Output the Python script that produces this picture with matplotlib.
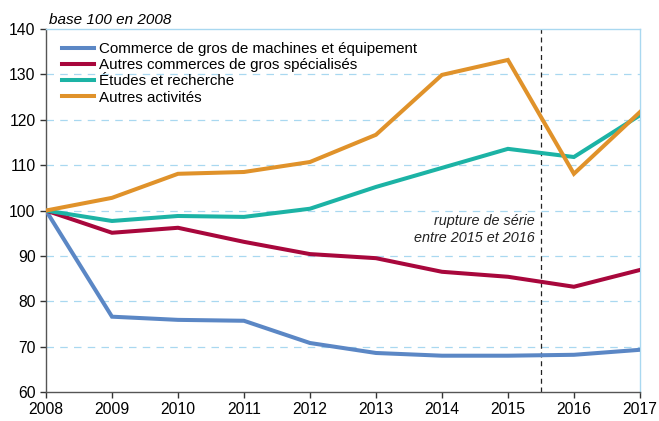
import matplotlib
matplotlib.use("Agg")
import matplotlib.pyplot as plt

plt.rcParams['font.family'] = ['Liberation Sans', 'DejaVu Sans']

years = list(range(2008, 2018))
commerce_machines = [100, 76.6, 75.9, 75.7, 70.8, 68.6, 68.0, 68.0, 68.2, 69.3]
autres_commerces = [100, 95.1, 96.2, 93.1, 90.4, 89.5, 86.5, 85.4, 83.2, 86.9]
etudes_recherche = [100, 97.7, 98.8, 98.6, 100.4, 105.2, 109.4, 113.6, 111.8, 121.0]
autres_activites = [100, 102.8, 108.1, 108.5, 110.7, 116.7, 129.9, 133.2, 108.1, 121.7]
labels = ["Commerce de gros de machines et équipement",
          "Autres commerces de gros spécialisés",
          "Études et recherche",
          "Autres activités"]
colors = ["#5b87c5", "#a8073c", "#1cb3a5", "#e0922a"]
series = [commerce_machines, autres_commerces, etudes_recherche, autres_activites]
break_x = 2015.5

fig = plt.figure(figsize=(6.59, 4.21), dpi=100)
ax = fig.add_axes([0.0698, 0.0689, 0.9012, 0.862])

for yv in range(70, 140, 10):
    ax.axhline(yv, color="#a9d8f0", lw=0.9, ls=(0, (6, 5)), zorder=0)

for s, c, l in zip(series, colors, labels):
    ax.plot(years, s, color=c, lw=2.9, label=l, solid_joinstyle="miter", zorder=3)

ax.axvline(break_x, color="#222222", lw=0.9, ls=(0, (4, 3)), zorder=2)
ax.text(2015.41, 99.3, "rupture de série\nentre 2015 et 2016", ha="right", va="top",
        fontsize=10.4, style="italic", linespacing=1.3, color="#222222")

ax.set_xlim(2008, 2017)
ax.set_ylim(60, 140)
ax.set_xticks(years)
ax.set_yticks(range(60, 141, 10))
ax.tick_params(axis="both", labelsize=11.3, direction="out", length=4, width=1, color="#333333")
for sp in ["left", "bottom"]:
    ax.spines[sp].set_color("#555555")
    ax.spines[sp].set_linewidth(1)
for sp in ["top", "right"]:
    ax.spines[sp].set_color("#a9d8f0")
    ax.spines[sp].set_linewidth(1)

fig.text(0.075, 0.937, "base 100 en 2008", style="italic", fontsize=11, ha="left", va="bottom")

leg = ax.legend(loc="upper left", bbox_to_anchor=(0.012, 0.99), frameon=False, fontsize=10.9,
                handlelength=2.1, handletextpad=0.35, labelspacing=0.15, borderaxespad=0.2)

fig.savefig("out.png", dpi=100)
